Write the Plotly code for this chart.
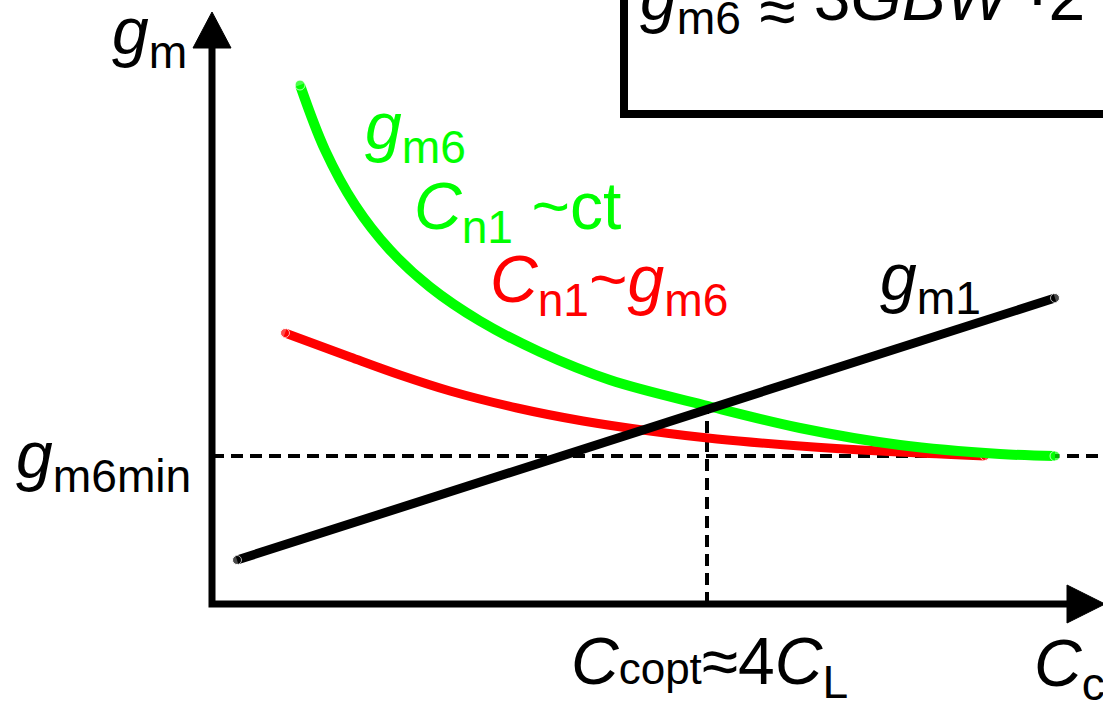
import plotly.graph_objects as go

# ---------------- data (conceptual units: Cc on x, gm on y) ----------------
gm6_ct_x = [0.88, 1.13, 1.43, 1.78, 2.18, 2.68, 3.28, 3.98, 4.96, 5.88, 6.88, 7.88, 8.43]
gm6_ct_y = [5.19, 4.54, 3.99, 3.54, 3.17, 2.83, 2.52, 2.24, 1.98, 1.76, 1.59, 1.50, 1.48]

gm6_prop_x = [0.73, 1.38, 1.88, 2.38, 3.05, 3.71, 4.38, 5.05, 5.88, 6.68, 7.73]
gm6_prop_y = [2.71, 2.47, 2.29, 2.13, 1.96, 1.83, 1.73, 1.65, 1.58, 1.53, 1.48]

gm1_x = [0.25, 8.43]
gm1_y = [0.44, 3.06]

gm6min = 1.48
copt_x = 4.95
copt_gm = 1.96

x_axis_end = 8.55
x_arrow_tip = 8.93
y_axis_end = 5.56
y_arrow_tip = 5.92
arrow_half = 0.19

X_RANGE = [-2.12, 8.91]
Y_RANGE = [-1.01, 6.04]

FONT = "Liberation Sans"
GREEN = "#00FF00"
RED = "#FF0000"
BLACK = "#000000"


def capped(n, w):
    return [w] + [0] * (n - 2) + [w]


fig = go.Figure()

# dashed guide lines
fig.add_trace(go.Scatter(x=[0, X_RANGE[1] + 0.2], y=[gm6min, gm6min], mode="lines",
                         line=dict(color=BLACK, width=4, dash="12px,7px"),
                         hoverinfo="skip", showlegend=False))
fig.add_trace(go.Scatter(x=[copt_x, copt_x], y=[0, copt_gm], mode="lines",
                         line=dict(color=BLACK, width=4, dash="12px,7px"),
                         hoverinfo="skip", showlegend=False))

# curves
fig.add_trace(go.Scatter(x=gm6_prop_x, y=gm6_prop_y, mode="lines+markers",
                         line=dict(color=RED, width=9, shape="spline", smoothing=1),
                         marker=dict(color=RED, size=capped(len(gm6_prop_x), 9)),
                         hoverinfo="skip", showlegend=False))
fig.add_trace(go.Scatter(x=gm6_ct_x, y=gm6_ct_y, mode="lines+markers",
                         line=dict(color=GREEN, width=10, shape="spline", smoothing=1),
                         marker=dict(color=GREEN, size=capped(len(gm6_ct_x), 10)),
                         hoverinfo="skip", showlegend=False))
fig.add_trace(go.Scatter(x=gm1_x, y=gm1_y, mode="lines+markers",
                         line=dict(color=BLACK, width=9),
                         marker=dict(color=BLACK, size=[9, 9]),
                         hoverinfo="skip", showlegend=False))

# axes with arrows
fig.add_trace(go.Scatter(x=[0, 0, x_axis_end], y=[y_axis_end, 0, 0], mode="lines",
                         line=dict(color=BLACK, width=7), hoverinfo="skip", showlegend=False))
fig.add_trace(go.Scatter(x=[-arrow_half, arrow_half, 0, -arrow_half],
                         y=[y_axis_end, y_axis_end, y_arrow_tip, y_axis_end],
                         mode="lines", fill="toself", fillcolor=BLACK,
                         line=dict(color=BLACK, width=1), hoverinfo="skip", showlegend=False))
fig.add_trace(go.Scatter(x=[x_axis_end, x_axis_end, x_arrow_tip, x_axis_end],
                         y=[-arrow_half, arrow_half, 0, -arrow_half],
                         mode="lines", fill="toself", fillcolor=BLACK,
                         line=dict(color=BLACK, width=1), hoverinfo="skip", showlegend=False))

# formula box (partially outside the view)
fig.add_shape(type="rect", x0=4.12, x1=10.0, y0=4.90, y1=7.0,
              line=dict(color=BLACK, width=8), fillcolor="rgba(0,0,0,0)")

FS = 66


def label(txt, x, y, color=BLACK, size=FS):
    fig.add_annotation(x=x, y=y, xref="x", yref="y", text=txt, showarrow=False,
                       xanchor="left", yanchor="middle",
                       font=dict(family=FONT, size=size, color=color))


label("<i>g</i><sub>m</sub>", -1.02, 5.68)
label("<i>g</i><sub>m6min</sub>", -1.98, 1.44)
label("<i>g</i><sub>m6</sub>", 1.51, 4.73, GREEN)
label("<i>C</i><sub>n1</sub> ~ct", 2.00, 3.93, GREEN)
label("<i>C</i><sub>n1</sub>~<i>g</i><sub>m6</sub>", 2.76, 3.20, RED)
label("<i>g</i><sub>m1</sub>", 6.66, 3.22)
label("<i>C</i><span style=\"font-size:44px\">copt</span>≈4<i>C</i><sub>L</sub>", 3.57, -0.62)
label("<i>C</i><sub>c</sub>", 8.20, -0.64)
label("<i>g</i><sub>m6</sub> <sub><span style=\"font-size:66px\">≈</span></sub> 3<i>GBW</i> ·2",
      4.26, 6.00)

fig.update_layout(
    width=1103, height=705,
    margin=dict(l=0, r=0, t=0, b=0),
    paper_bgcolor="white", plot_bgcolor="white",
    xaxis=dict(range=X_RANGE, visible=False, fixedrange=True),
    yaxis=dict(range=Y_RANGE, visible=False, fixedrange=True),
    showlegend=False, hovermode=False,
)

fig.write_html("out.html", config={"displayModeBar": False},
               post_script="document.body.style.margin='0px';")
